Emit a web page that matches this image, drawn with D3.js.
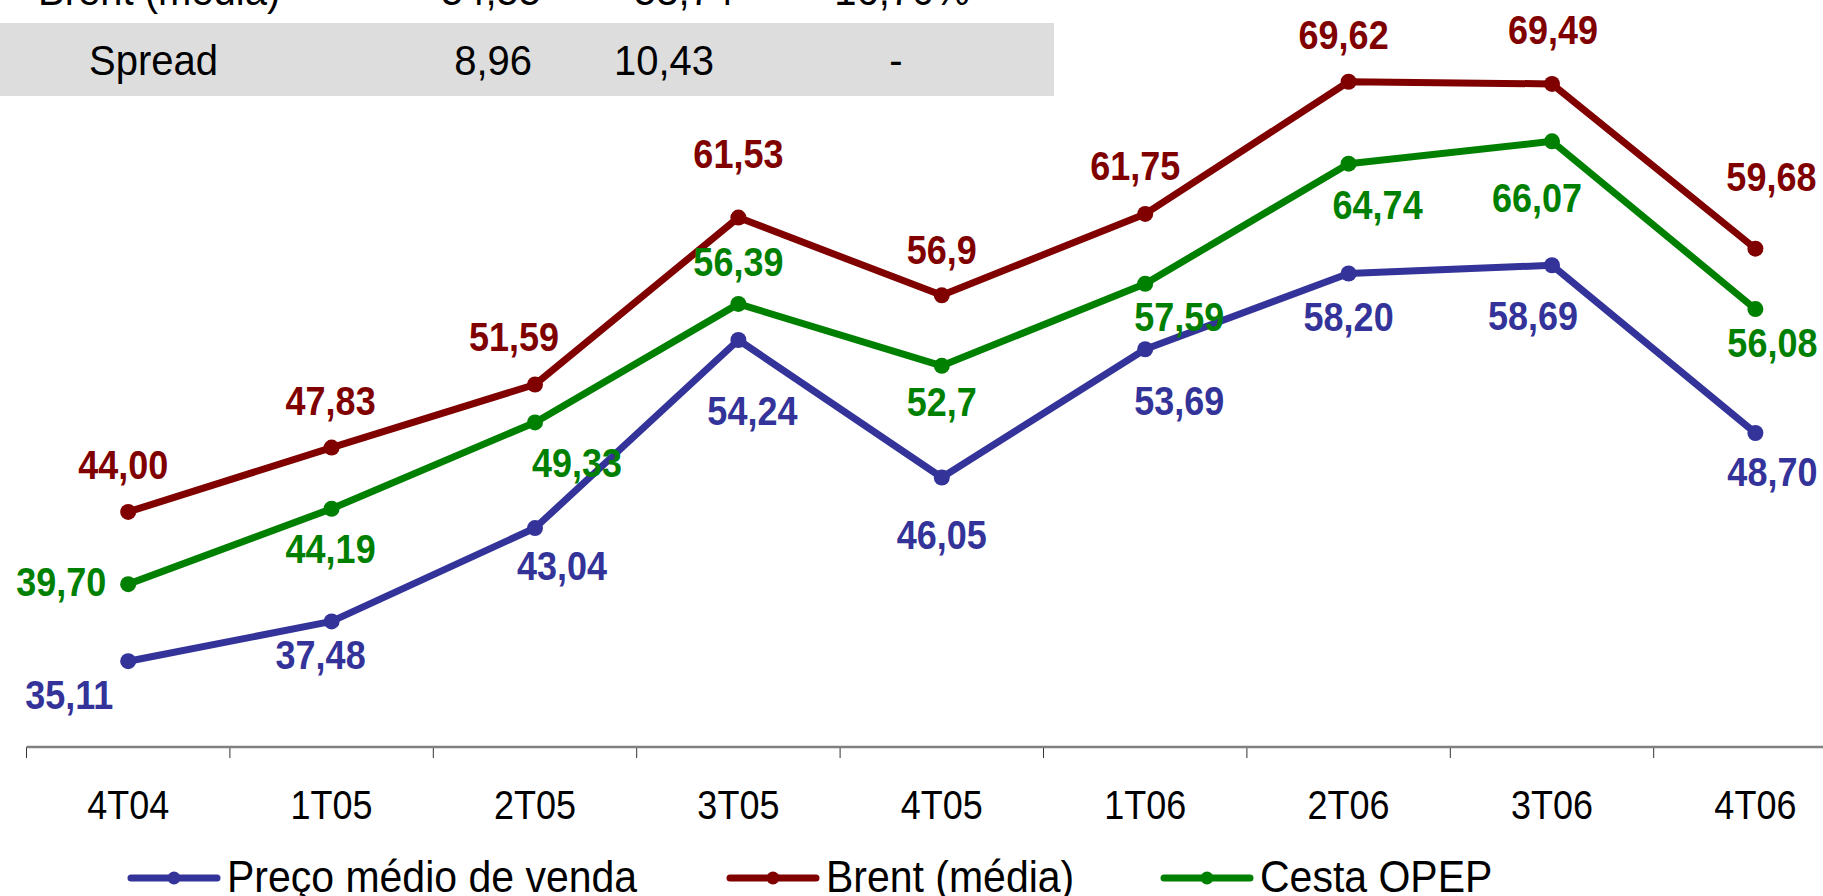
<!DOCTYPE html>
<html>
<head>
<meta charset="utf-8">
<script src="https://cdn.jsdelivr.net/npm/d3@7"></script>
<style>
  html, body { margin: 0; padding: 0; background: #fff; }
  svg { display: block; }
  text { font-family: "Liberation Sans", Arial, sans-serif; }
</style>
</head>
<body>
<svg id="chart" width="1823" height="896"></svg>
<script>
// ---- data ----
const categories = ["4T04", "1T05", "2T05", "3T05", "4T05", "1T06", "2T06", "3T06", "4T06"];
const precoValues = [35.11, 37.48, 43.04, 54.24, 46.05, 53.69, 58.20, 58.69, 48.70];
const brentValues = [44.00, 47.83, 51.59, 61.53, 56.9, 61.75, 69.62, 69.49, 59.68];
const cestaValues = [39.70, 44.19, 49.33, 56.39, 52.7, 57.59, 64.74, 66.07, 56.08];
const precoLabels = ["35,11", "37,48", "43,04", "54,24", "46,05", "53,69", "58,20", "58,69", "48,70"];
const brentLabels = ["44,00", "47,83", "51,59", "61,53", "56,9", "61,75", "69,62", "69,49", "59,68"];
const cestaLabels = ["39,70", "44,19", "49,33", "56,39", "52,7", "57,59", "64,74", "66,07", "56,08"];
const seriesNames = ["Preço médio de venda", "Brent (média)", "Cesta OPEP"];
const tableRowTop = ["Brent (média)", "54,55", "53,74", "16,70%"];
const tableRowSpread = ["Spread", "8,96", "10,43", "-"];

// ---- layout (label offsets relative to each point) ----
const brentOff = [[-5,-33],[-1,-33],[-21,-33],[0,-50],[0,-31],[-10,-34],[-5,-33],[1,-40],[16,-58]];
const precoOff = [[-59,48],[-11,48],[27,52],[14,85],[0,71],[34,66],[0,58],[-19,65],[17,53]];
const cestaOff = [[-67,12],[-1,54],[42,55],[0,-28],[0,50],[34,47],[29,55],[-15,71],[17,48]];

const colors = { preco: "#333399", brent: "#800000", cesta: "#008000" };

const svg = d3.select("#chart");

const x = d3.scaleBand().domain(categories).range([26.5, 26.5 + 9 * 203.4]);
const y = d3.scaleLinear().domain([30, 75]).range([747, -8.6]);
const cx = c => x(c) + x.bandwidth() / 2;

function stext(g, str, tx, ty, size, sy, anchor, weight, fill) {
  g.append("text")
    .attr("transform", `translate(${tx},${ty}) scale(1,${sy})`)
    .attr("text-anchor", anchor)
    .attr("font-size", size)
    .attr("font-weight", weight || "normal")
    .attr("fill", fill || "#000")
    .text(str);
}

// ---- table (partially cut off at top) ----
svg.append("rect").attr("x", 0).attr("y", 23).attr("width", 1054).attr("height", 73).attr("fill", "#dddddd");
const tbl = svg.append("g");
stext(tbl, tableRowTop[0], 38, 5, 40, 1.08, "start");
stext(tbl, tableRowTop[1], 541, 5, 40, 1.08, "end");
stext(tbl, tableRowTop[2], 734, 5, 40, 1.08, "end");
stext(tbl, tableRowTop[3], 902, 5, 40, 1.08, "middle");
stext(tbl, tableRowSpread[0], 89, 75, 40, 1.08, "start");
stext(tbl, tableRowSpread[1], 532, 75, 40, 1.08, "end");
stext(tbl, tableRowSpread[2], 714, 75, 40, 1.08, "end");
stext(tbl, tableRowSpread[3], 896, 75, 40, 1.08, "middle");

// ---- axis ----
const axis = svg.append("g");
categories.forEach(c => {
  axis.append("line").attr("x1", x(c)).attr("x2", x(c)).attr("y1", 747).attr("y2", 758)
    .attr("stroke", "#333").attr("stroke-width", 1);
  stext(axis, c, cx(c), 819, 36, 1.12, "middle");
});
axis.append("line").attr("x1", x(categories[0])).attr("x2", 1823).attr("y1", 747).attr("y2", 747)
  .attr("stroke", "#808080").attr("stroke-width", 2.5);

// ---- series ----
const series = [
  { key: "brent", values: brentValues, labels: brentLabels, off: brentOff },
  { key: "cesta", values: cestaValues, labels: cestaLabels, off: cestaOff },
  { key: "preco", values: precoValues, labels: precoLabels, off: precoOff }
];
const line = d3.line().x((d, i) => cx(categories[i])).y(d => y(d));

series.forEach(s => {
  const g = svg.append("g");
  g.append("path").attr("d", line(s.values)).attr("fill", "none")
    .attr("stroke", colors[s.key]).attr("stroke-width", 7).attr("stroke-linejoin", "round");
  g.selectAll("circle").data(s.values).join("circle")
    .attr("cx", (d, i) => cx(categories[i])).attr("cy", d => y(d)).attr("r", 8)
    .attr("fill", colors[s.key]);
});
series.forEach(s => {
  const g = svg.append("g");
  s.values.forEach((v, i) => {
    stext(g, s.labels[i], cx(categories[i]) + s.off[i][0], y(v) + s.off[i][1], 36, 1.12, "middle", "bold", colors[s.key]);
  });
});

// ---- legend ----
const leg = svg.append("g");
const legItems = [
  { name: seriesNames[0], color: colors.preco, x0: 131 },
  { name: seriesNames[1], color: colors.brent, x0: 730 },
  { name: seriesNames[2], color: colors.cesta, x0: 1164 }
];
legItems.forEach(it => {
  leg.append("line").attr("x1", it.x0).attr("x2", it.x0 + 86).attr("y1", 878).attr("y2", 878)
    .attr("stroke", it.color).attr("stroke-width", 7).attr("stroke-linecap", "round");
  leg.append("circle").attr("cx", it.x0 + 43).attr("cy", 878).attr("r", 6.5).attr("fill", it.color);
  stext(leg, it.name, it.x0 + 96, 892, 41, 1.1, "start");
});
</script>
</body>
</html>
